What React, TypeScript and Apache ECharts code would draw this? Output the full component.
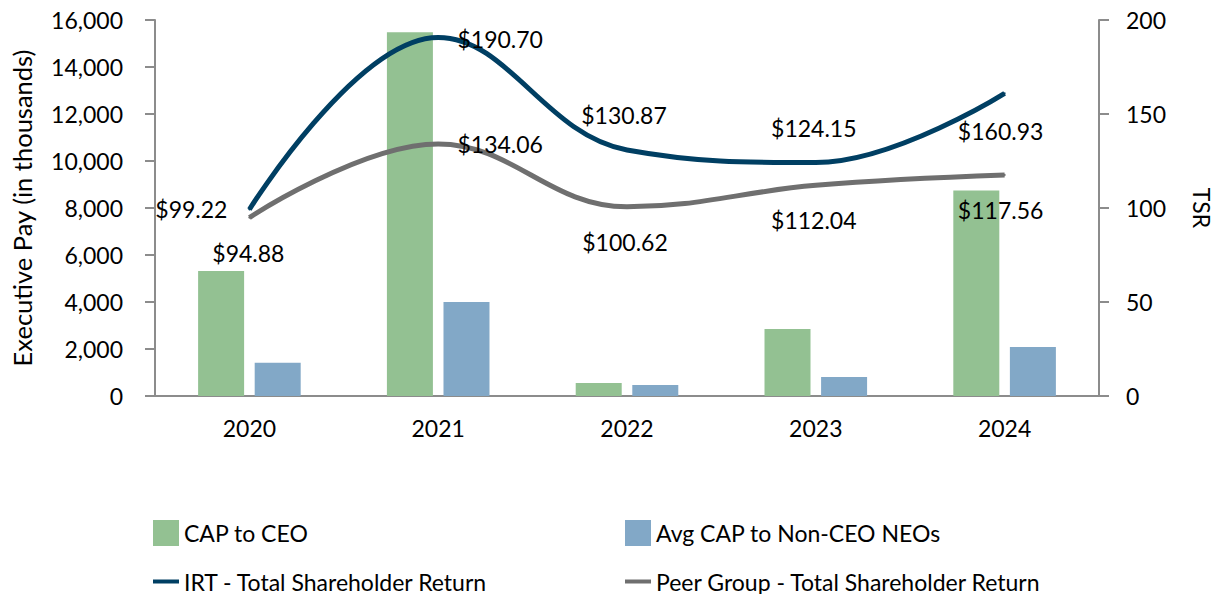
import React, { useEffect, useRef } from "react";
import * as echarts from "echarts";

const years = ["2020", "2021", "2022", "2023", "2024"];
const capToCeo = [5320, 15480, 555, 2850, 8740];
const avgCapNonCeo = [1420, 4000, 470, 810, 2090];
const irtTsr = [99.22, 190.7, 130.87, 124.15, 160.93];
const peerTsr = [94.88, 134.06, 100.62, 112.04, 117.56];

const irtLabelOffsets = [[-58, 0], [62, 2], [-3, -35], [-2, -35], [-4, 38]];
const peerLabelOffsets = [[-1, 35], [62, 0], [-2, 35], [-2, 35], [-4, 35]];

const FONT = "Lato";
const FS = 23;
const AXIS_COLOR = "#8c8c8c";
const GREEN = "#93c192";
const BLUE = "#82a8c7";
const NAVY = "#003f63";
const GREY = "#6f6f6f";

export default function App() {
  const ref = useRef<HTMLDivElement>(null);
  useEffect(() => {
    document.body.style.margin = "0";
    if (!ref.current) return;
    const chart = echarts.init(ref.current, null, { renderer: "svg" });
    const fmt = (p: any) => "$" + Number(p.value).toFixed(2);
    const textStyle = { fontFamily: FONT, fontSize: FS, color: "#000" };
    const legendBase = {
      orient: "horizontal",
      itemGap: 10,
      textStyle: { ...textStyle },
      selectedMode: false,
    };
    chart.setOption({
      animation: false,
      textStyle: { fontFamily: FONT },
      grid: { left: 155, right: 118, top: 20, bottom: 198, containLabel: false, outerBoundsMode: "none" },
      legend: [
        { ...legendBase, left: 148, top: 515, data: [{ name: "CAP to CEO", icon: "rect" }], itemWidth: 26, itemHeight: 26 },
        { ...legendBase, left: 620, top: 515, data: [{ name: "Avg CAP to Non-CEO NEOs", icon: "rect" }], itemWidth: 26, itemHeight: 26 },
        { ...legendBase, left: 148, top: 565, data: [{ name: "IRT - Total Shareholder Return", icon: "rect" }], itemWidth: 26, itemHeight: 4 },
        { ...legendBase, left: 620, top: 565, data: [{ name: "Peer Group - Total Shareholder Return", icon: "rect" }], itemWidth: 26, itemHeight: 4 },
      ],
      xAxis: {
        type: "category",
        data: years,
        boundaryGap: true,
        axisLine: { lineStyle: { color: AXIS_COLOR, width: 2 } },
        axisTick: { alignWithLabel: true, length: 9, lineStyle: { color: AXIS_COLOR, width: 2 } },
        axisLabel: { ...textStyle, margin: 20 },
        splitLine: { show: false },
      },
      yAxis: [
        {
          type: "value",
          min: 0,
          max: 16000,
          interval: 2000,
          name: "Executive Pay (in thousands)",
          nameLocation: "middle",
          nameGap: 120,
          nameRotate: 90,
          nameTextStyle: { ...textStyle, fontSize: 25.5 },
          axisLine: { show: true, lineStyle: { color: AXIS_COLOR, width: 2 } },
          axisTick: { show: true, length: 10, lineStyle: { color: AXIS_COLOR, width: 2 } },
          axisLabel: {
            ...textStyle,
            margin: 32,
            formatter: (v: number) => v.toLocaleString("en-US"),
          },
          splitLine: { show: false },
        },
        {
          type: "value",
          min: 0,
          max: 200,
          interval: 50,
          position: "right",
          name: "TSR",
          nameLocation: "middle",
          nameGap: 91,
          nameRotate: -90,
          nameTextStyle: { ...textStyle },
          axisLine: { show: true, lineStyle: { color: AXIS_COLOR, width: 2 } },
          axisTick: { show: true, length: 10, lineStyle: { color: AXIS_COLOR, width: 2 } },
          axisLabel: { ...textStyle, margin: 27 },
          splitLine: { show: false },
        },
      ],
      series: [
        {
          name: "CAP to CEO",
          type: "bar",
          yAxisIndex: 0,
          data: capToCeo,
          barWidth: 46,
          barGap: "23%",
          itemStyle: { color: GREEN },
        },
        {
          name: "Avg CAP to Non-CEO NEOs",
          type: "bar",
          yAxisIndex: 0,
          data: avgCapNonCeo,
          barWidth: 46,
          barGap: "23%",
          itemStyle: { color: BLUE },
        },
        {
          name: "IRT - Total Shareholder Return",
          type: "line",
          yAxisIndex: 1,
          smooth: 0.4,
          symbol: "circle",
          symbolSize: 2,
          showSymbol: true,
          lineStyle: { color: NAVY, width: 5 },
          itemStyle: { color: NAVY },
          z: 5,
          data: irtTsr.map((v, i) => ({
            value: v,
            label: { show: true, position: "inside", offset: irtLabelOffsets[i], formatter: fmt, ...textStyle },
          })),
        },
        {
          name: "Peer Group - Total Shareholder Return",
          type: "line",
          yAxisIndex: 1,
          smooth: 0.4,
          symbol: "circle",
          symbolSize: 2,
          showSymbol: true,
          lineStyle: { color: GREY, width: 5 },
          itemStyle: { color: GREY },
          z: 4,
          data: peerTsr.map((v, i) => ({
            value: v,
            label: { show: true, position: "inside", offset: peerLabelOffsets[i], formatter: fmt, ...textStyle },
          })),
        },
      ],
    });
    return () => chart.dispose();
  }, []);
  return <div ref={ref} style={{ width: 1217, height: 594 }} />;
}
